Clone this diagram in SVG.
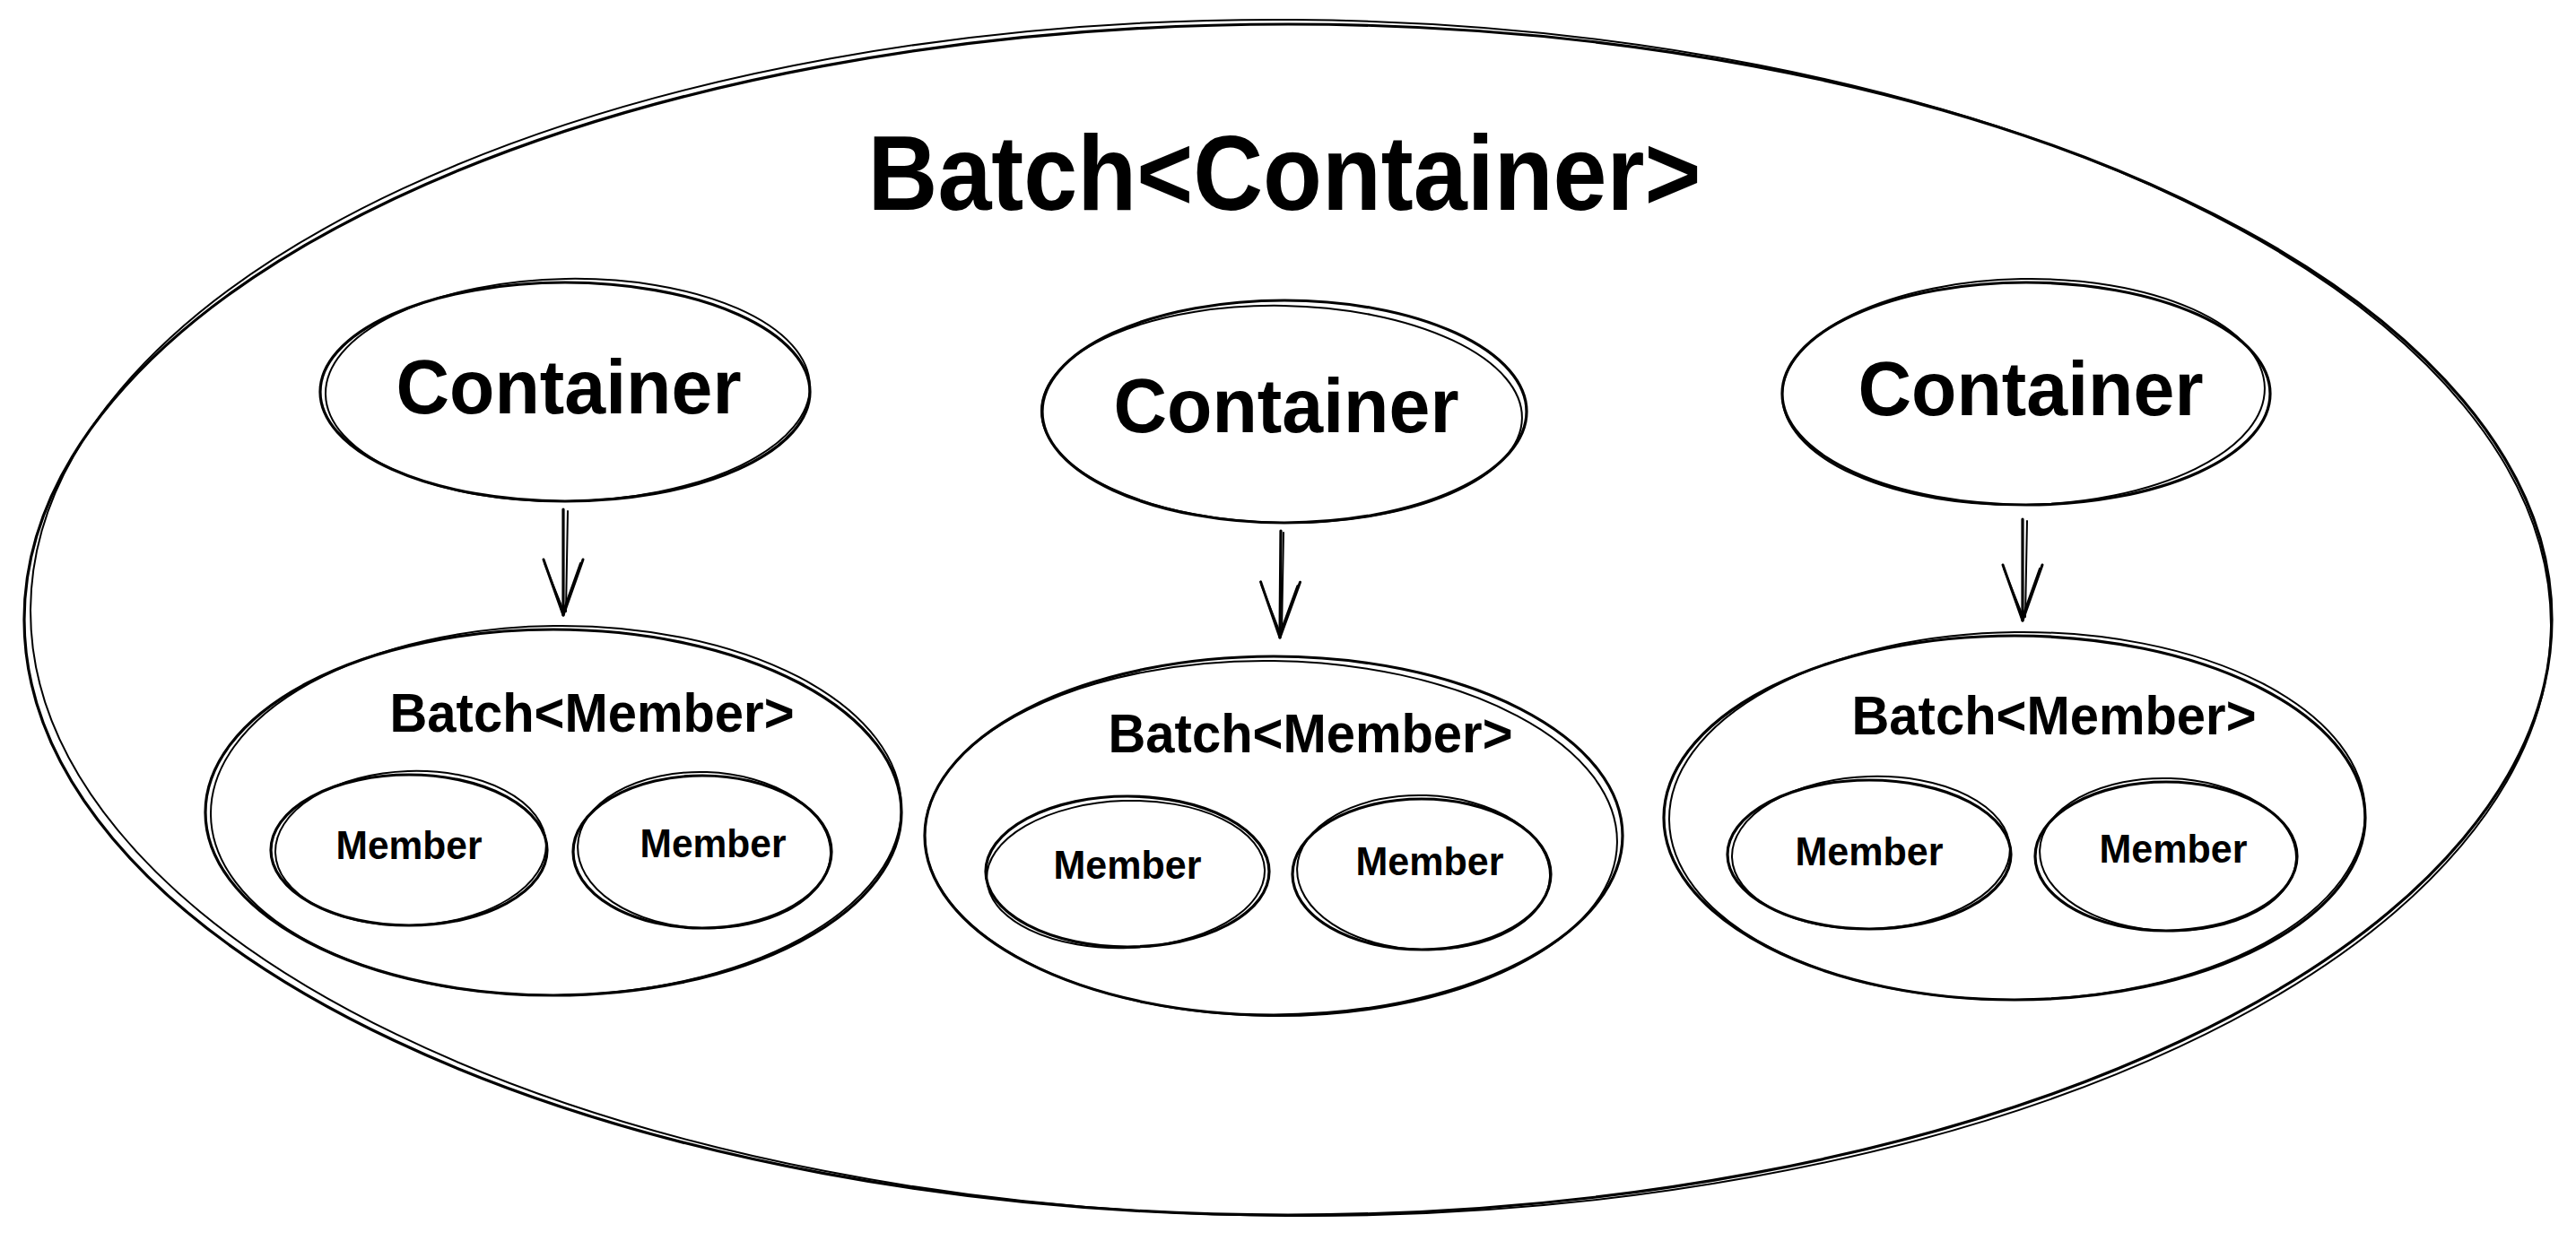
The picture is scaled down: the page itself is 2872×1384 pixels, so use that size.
<svg xmlns="http://www.w3.org/2000/svg" width="2872" height="1384" viewBox="0 0 2872 1384">
<style>
.s{fill:none;stroke:#000000;stroke-width:3.2;stroke-linecap:round;stroke-linejoin:round}
.s2{fill:none;stroke:#000000;stroke-width:2;stroke-linecap:round}
text{font-family:"Liberation Sans","DejaVu Sans",sans-serif;fill:#000000;text-anchor:middle;font-weight:bold}
.t0{font-size:118px}
.t1{font-size:86px}
.t2{font-size:62px}
.t3{font-size:44px}
</style>
<defs>
<marker id="ah" markerUnits="userSpaceOnUse" markerWidth="80" markerHeight="60" refX="0" refY="0" orient="auto" overflow="visible">
<path d="M-62,-22 L0,0 L-62,22" fill="none" stroke="#000000" stroke-width="3" stroke-linecap="round" stroke-linejoin="round"/>
<path d="M-58,-19 L-2,1 M-58,21 L-3,-1" fill="none" stroke="#000000" stroke-width="2" stroke-linecap="round"/>
</marker>
</defs>
<rect width="2872" height="1384" fill="#ffffff"/>
<g id="outer-batch">
<ellipse class="s" cx="1436" cy="691" rx="1409" ry="664"/>
<ellipse class="s2" cx="1439" cy="689" rx="1405" ry="667" transform="rotate(0.4 1436 691)"/>
<text class="t0" x="1432" y="234" textLength="929" lengthAdjust="spacingAndGlyphs">Batch&lt;Container&gt;</text>
</g>
<g id="container-1">
<ellipse class="s" cx="630" cy="437" rx="273" ry="122"/>
<ellipse class="s2" cx="633" cy="435" rx="270" ry="124" transform="rotate(-1 630 437)"/>
<text class="t1" x="634" y="461" textLength="385" lengthAdjust="spacingAndGlyphs">Container</text>
</g>
<g id="container-2">
<ellipse class="s" cx="1432" cy="459" rx="270" ry="124"/>
<ellipse class="s2" cx="1429" cy="462" rx="268" ry="121" transform="rotate(1 1432 459)"/>
<text class="t1" x="1434" y="482" textLength="385" lengthAdjust="spacingAndGlyphs">Container</text>
</g>
<g id="container-3">
<ellipse class="s" cx="2259" cy="439" rx="272" ry="124"/>
<ellipse class="s2" cx="2256" cy="437" rx="269" ry="126" transform="rotate(-1 2259 439)"/>
<text class="t1" x="2264" y="463" textLength="385" lengthAdjust="spacingAndGlyphs">Container</text>
</g>
<g id="batch-member-1">
<ellipse class="s" cx="617" cy="906" rx="388" ry="204"/>
<ellipse class="s2" cx="620" cy="904" rx="385" ry="206" transform="rotate(-0.7 617 906)"/>
<text class="t2" x="660" y="816" textLength="451" lengthAdjust="spacingAndGlyphs">Batch&lt;Member&gt;</text>
</g>
<g id="member-1a">
<ellipse class="s" cx="456" cy="948" rx="154" ry="84"/>
<ellipse class="s2" cx="458" cy="946" rx="151" ry="86" transform="rotate(-2 456 948)"/>
<text class="t3" x="456" y="958" textLength="163" lengthAdjust="spacingAndGlyphs">Member</text>
</g>
<g id="member-1b">
<ellipse class="s" cx="783" cy="950" rx="144" ry="85"/>
<ellipse class="s2" cx="785" cy="948" rx="141" ry="87" transform="rotate(2 783 950)"/>
<text class="t3" x="795" y="956" textLength="163" lengthAdjust="spacingAndGlyphs">Member</text>
</g>
<g id="batch-member-2">
<ellipse class="s" cx="1420" cy="932" rx="389" ry="200"/>
<ellipse class="s2" cx="1417" cy="935" rx="386" ry="198" transform="rotate(0.7 1420 932)"/>
<text class="t2" x="1461" y="839" textLength="451" lengthAdjust="spacingAndGlyphs">Batch&lt;Member&gt;</text>
</g>
<g id="member-2a">
<ellipse class="s" cx="1257" cy="972" rx="158" ry="84"/>
<ellipse class="s2" cx="1255" cy="975" rx="155" ry="82" transform="rotate(-2 1257 972)"/>
<text class="t3" x="1257" y="980" textLength="165" lengthAdjust="spacingAndGlyphs">Member</text>
</g>
<g id="member-2b">
<ellipse class="s" cx="1585" cy="975" rx="144" ry="84"/>
<ellipse class="s2" cx="1587" cy="973" rx="141" ry="86" transform="rotate(2 1585 975)"/>
<text class="t3" x="1594" y="976" textLength="165" lengthAdjust="spacingAndGlyphs">Member</text>
</g>
<g id="batch-member-3">
<ellipse class="s" cx="2246" cy="912" rx="391" ry="203"/>
<ellipse class="s2" cx="2249" cy="910" rx="388" ry="205" transform="rotate(-0.7 2246 912)"/>
<text class="t2" x="2290" y="819" textLength="451" lengthAdjust="spacingAndGlyphs">Batch&lt;Member&gt;</text>
</g>
<g id="member-3a">
<ellipse class="s" cx="2084" cy="953" rx="158" ry="83"/>
<ellipse class="s2" cx="2086" cy="951" rx="155" ry="85" transform="rotate(-2 2084 953)"/>
<text class="t3" x="2084" y="965" textLength="165" lengthAdjust="spacingAndGlyphs">Member</text>
</g>
<g id="member-3b">
<ellipse class="s" cx="2415" cy="955" rx="146" ry="83"/>
<ellipse class="s2" cx="2417" cy="953" rx="143" ry="85" transform="rotate(2 2415 955)"/>
<text class="t3" x="2423" y="962" textLength="165" lengthAdjust="spacingAndGlyphs">Member</text>
</g>
<g id="connectors">
<path class="s" d="M628,568 L628,686" marker-end="url(#ah)"/>
<path class="s2" d="M633,570 L631,682"/>
<path class="s" d="M1428,592 L1427,711" marker-end="url(#ah)"/>
<path class="s2" d="M1431,594 L1429,706"/>
<path class="s" d="M2255,579 L2255,692" marker-end="url(#ah)"/>
<path class="s2" d="M2260,581 L2258,688"/>
</g>
</svg>
